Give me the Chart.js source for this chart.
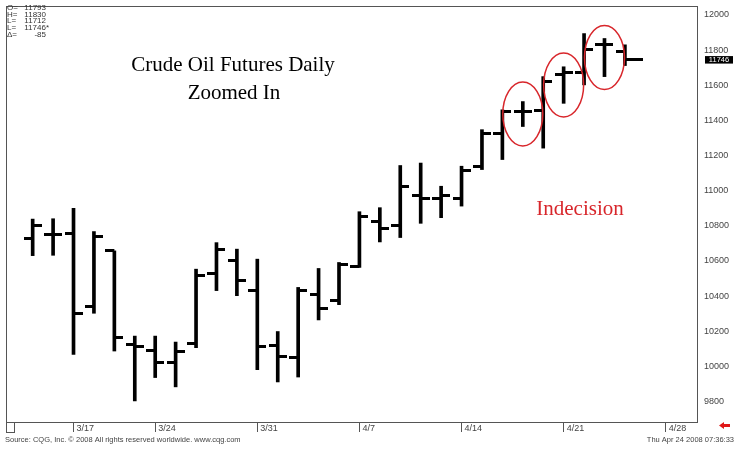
<!DOCTYPE html>
<html>
<head>
<meta charset="utf-8">
<script src="https://cdn.jsdelivr.net/npm/chart.js@4.4.1/dist/chart.umd.min.js"></script>
<style>
  html, body { margin: 0; padding: 0; background: #fff; }
  #wrap { width: 739px; height: 452px; position: relative; }
</style>
</head>
<body>
<div id="wrap"><canvas id="chart"></canvas></div>
<script>
// daily bars, 3/13 - 4/24 (2008)
const dates = ['3/13','3/14','3/17','3/18','3/19','3/20','3/24','3/25','3/26','3/27','3/28',
    '3/31','4/1','4/2','4/3','4/4','4/7','4/8','4/9','4/10','4/11',
    '4/14','4/15','4/16','4/17','4/18','4/21','4/22','4/23','4/24'];
const opens  = [10729,10752,10755,10342,10657,10125,10091,10024,10129,10530,10600,
    10434,10117,10049,10406,10374,10566,10827,10799,10973,10954,
    10954,11139,11328,11450,11456,11662,11671,11834,11793];
const highs  = [10838,10840,10899,10767,10657,10172,10172,10138,10553,10704,10667,
    10610,10198,10449,10557,10591,10880,10903,11143,11157,11025,
    11139,11347,11460,11507,11649,11705,11894,11866,11830];
const lows   = [10630,10632,10068,10302,10087,9803,9936,9883,10106,10431,10402,
    9981,9911,9939,10264,10351,10563,10708,10733,10814,10846,
    10912,11120,11177,11365,11242,11497,11602,11649,11712];
const closes = [10799,10752,10302,10738,10166,10113,10024,10085,10519,10663,10491,
    10113,10057,10434,10330,10580,10855,10784,11022,10954,10973,
    11116,11328,11450,11450,11620,11671,11804,11834,11746];

const tickDates = ['3/17','3/24','3/31','4/7','4/14','4/21','4/28'];
const tickIndex = [2, 6, 11, 16, 21, 26, 31];
const yTicks = [9800,10000,10200,10400,10600,10800,11000,11200,11400,11600,11800,12000];

const quoteLabels = ['O=','H=','L=','L=','Δ='];
const quoteValues = ['11793','11830','11712','11746*','-85'];
const circled = [24, 26, 28];   // bars marked as indecision

const xMin = -1.306, xMax = 32.53;
const yMin = 9683, yMax = 12051;

function tickMark(side, len) {
    let c = document.createElement('canvas');
    c.width = len * 2; c.height = 3;
    let g = c.getContext('2d');
    g.fillStyle = '#000';
    g.fillRect(side === 'left' ? 0 : len, 0, len, 3);
    return c;
}
const openMark = tickMark('left', 9);
const closeMark = tickMark('right', 9);
const lastMark = tickMark('right', 18);

const extras = {
    id: 'extras',
    afterDraw(chart) {
        const ctx = chart.ctx, a = chart.chartArea;
        const xs = chart.scales.x, ys = chart.scales.y;
        ctx.save();
        // frame
        ctx.strokeStyle = '#555'; ctx.lineWidth = 1;
        ctx.strokeRect(a.left + 0.5, a.top + 0.5, a.right - a.left, a.bottom - a.top);
        ctx.strokeRect(a.left + 0.5, a.bottom + 0.5, 8, 10);

        // quote box
        ctx.fillStyle = '#333';
        ctx.font = '8px "Liberation Sans"';
        ctx.textBaseline = 'middle';
        quoteLabels.forEach((l, i) => {
            ctx.textAlign = 'left';
            ctx.fillText(l, 7, 8 + i * 6.6);
            ctx.textAlign = 'right';
            ctx.fillText(quoteValues[i], quoteValues[i].endsWith('*') ? 49 : 46, 8 + i * 6.6);
        });

        // titles
        ctx.fillStyle = '#000';
        ctx.textAlign = 'center';
        ctx.font = '21px "Liberation Serif"';
        ctx.fillText('Crude Oil Futures Daily', 233, 65);
        ctx.fillText('Zoomed In', 234, 93);
        ctx.fillStyle = '#d8262b';
        ctx.fillText('Indecision', 580, 209);

        // circles
        ctx.strokeStyle = '#d8262b'; ctx.lineWidth = 1.5;
        circled.forEach(i => {
            let cx = xs.getPixelForValue(i);
            let cy = ys.getPixelForValue((highs[i] + lows[i]) / 2);
            ctx.beginPath();
            ctx.ellipse(cx, cy, 20, 32, 0, 0, Math.PI * 2);
            ctx.stroke();
        });

        // last price tag
        let last = closes[closes.length - 1];
        let py = ys.getPixelForValue(last);
        ctx.fillStyle = '#000';
        ctx.fillRect(705, py - 3.5, 28, 7.5);
        ctx.fillStyle = '#fff';
        ctx.font = '7.5px "Liberation Sans"';
        ctx.textAlign = 'center';
        ctx.fillText(String(last), 719, py + 0.3);

        // red arrow
        ctx.fillStyle = '#e01818';
        ctx.beginPath();
        ctx.moveTo(719, 425.5);
        ctx.lineTo(724, 422);
        ctx.lineTo(724, 424);
        ctx.lineTo(730, 424);
        ctx.lineTo(730, 427);
        ctx.lineTo(724, 427);
        ctx.lineTo(724, 429);
        ctx.closePath();
        ctx.fill();

        // footer
        ctx.fillStyle = '#444';
        ctx.font = '7.5px "Liberation Sans"';
        ctx.textAlign = 'left';
        ctx.fillText('Source: CQG, Inc. © 2008 All rights reserved worldwide. www.cqg.com', 5, 440);
        ctx.textAlign = 'right';
        ctx.fillText('Thu Apr 24 2008 07:36:33', 734, 440);
        ctx.restore();
    }
};

Chart.defaults.font.family = '"Liberation Sans", Arial, sans-serif';

new Chart(document.getElementById('chart'), {
    type: 'bar',
    data: {
        datasets: [
            {
                type: 'bar',
                data: dates.map((d, i) => ({ x: i, y: [lows[i], highs[i]] })),
                backgroundColor: '#000',
                borderWidth: 0,
                barThickness: 3
            },
            {
                type: 'scatter',
                data: dates.map((d, i) => ({ x: i, y: opens[i] })),
                pointStyle: openMark,
                pointRadius: 5
            },
            {
                type: 'scatter',
                data: dates.map((d, i) => ({ x: i, y: closes[i] })),
                pointStyle: dates.map((d, i) => i === dates.length - 1 ? lastMark : closeMark),
                pointRadius: 5
            }
        ]
    },
    options: {
        responsive: true,
        maintainAspectRatio: false,
        animation: false,
        layout: { padding: { left: 5, top: 4, right: 0, bottom: 12 } },
        plugins: { legend: { display: false }, tooltip: { enabled: false } },
        scales: {
            x: {
                type: 'linear',
                min: xMin, max: xMax,
                offset: false,
                afterBuildTicks: s => { s.ticks = tickIndex.map(v => ({ value: v })); },
                afterFit: s => { s.height = 18; s.paddingLeft = 0; s.paddingRight = 0; },
                ticks: {
                    autoSkip: false, maxRotation: 0, align: 'start', labelOffset: 3, padding: -9,
                    color: '#444', font: { size: 9 },
                    callback: (v, i) => tickDates[i]
                },
                grid: { drawOnChartArea: false, drawTicks: true, tickLength: 10, color: '#555', offset: false },
                border: { display: true, color: '#555' }
            },
            y: {
                position: 'right',
                min: yMin, max: yMax,
                afterBuildTicks: s => { s.ticks = yTicks.map(v => ({ value: v })); },
                afterFit: s => { s.width = 42; s.paddingTop = 0; s.paddingBottom = 0; },
                ticks: { padding: 7, color: '#444', font: { size: 9 }, callback: v => String(v) },
                grid: { display: false, drawTicks: false },
                border: { display: true, color: '#555' }
            }
        }
    },
    plugins: [extras]
});
</script>
</body>
</html>
